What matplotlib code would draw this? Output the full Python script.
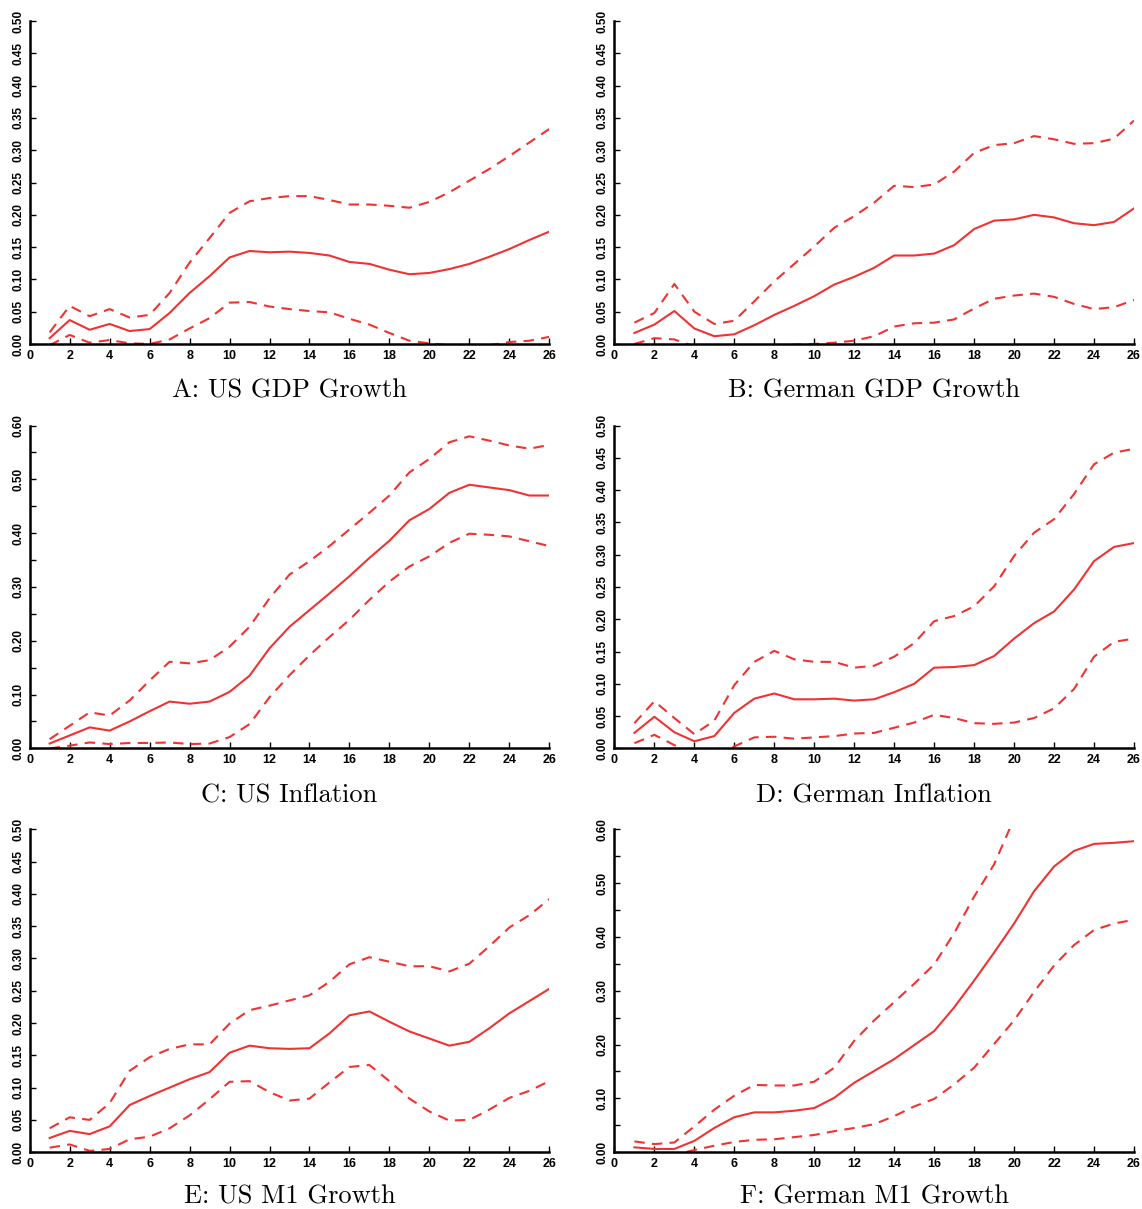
import numpy as np
import matplotlib
matplotlib.use("Agg")
import matplotlib.pyplot as plt
from matplotlib.ticker import MultipleLocator, FormatStrFormatter

nan = np.nan
horizon = list(range(1, 27))

# A: US GDP growth
us_gdp = [0.009, 0.037, 0.022, 0.031, 0.020, 0.023, 0.048, 0.079, 0.105, 0.134, 0.144, 0.142, 0.143,
          0.141, 0.137, 0.127, 0.124, 0.115, 0.108, 0.110, 0.116, 0.124, 0.135, 0.147, 0.161, 0.174]
us_gdp_hi = [0.018, 0.059, 0.043, 0.054, 0.041, 0.045, 0.079, 0.126, 0.164, 0.203, 0.221, 0.226, 0.229,
             0.229, 0.223, 0.216, 0.216, 0.214, 0.211, 0.220, 0.235, 0.253, 0.271, 0.291, 0.312, 0.333]
us_gdp_lo = [-0.002, 0.014, 0.002, 0.006, 0.001, 0.000, 0.007, 0.024, 0.040, 0.064, 0.065, 0.058, 0.054,
             0.051, 0.049, 0.039, 0.030, 0.017, 0.005, 0.001, -0.002, -0.003, -0.002, 0.003, 0.005, 0.011]

# B: German GDP growth
de_gdp = [0.017, 0.030, 0.051, 0.024, 0.012, 0.015, 0.029, 0.045, 0.059, 0.074, 0.092, 0.104, 0.118,
          0.137, 0.137, 0.140, 0.153, 0.178, 0.191, 0.193, 0.200, 0.196, 0.187, 0.184, 0.189, 0.210]
de_gdp_hi = [0.033, 0.048, 0.093, 0.050, 0.031, 0.036, 0.066, 0.097, 0.124, 0.151, 0.180, 0.198, 0.219,
             0.245, 0.243, 0.247, 0.267, 0.296, 0.308, 0.311, 0.322, 0.317, 0.310, 0.311, 0.318, 0.346]
de_gdp_lo = [0.000, 0.009, 0.007, -0.004, -0.010, -0.010, -0.008, -0.005, -0.001, 0.000, 0.002, 0.005, 0.012,
             0.027, 0.032, 0.033, 0.038, 0.055, 0.070, 0.075, 0.078, 0.073, 0.062, 0.054, 0.057, 0.068]

# C: US inflation
us_inf = [0.009, 0.024, 0.039, 0.033, 0.050, 0.069, 0.087, 0.083, 0.087, 0.105, 0.135, 0.186, 0.226,
          0.257, 0.288, 0.320, 0.354, 0.386, 0.424, 0.445, 0.475, 0.490, 0.485, 0.480, 0.470, 0.470]
us_inf_hi = [0.017, 0.042, 0.067, 0.061, 0.089, 0.126, 0.161, 0.158, 0.164, 0.189, 0.226, 0.279, 0.323,
             0.348, 0.376, 0.407, 0.438, 0.470, 0.513, 0.538, 0.569, 0.580, 0.572, 0.563, 0.557, 0.564]
us_inf_lo = [0.000, 0.005, 0.011, 0.008, 0.010, 0.010, 0.011, 0.008, 0.009, 0.021, 0.045, 0.095, 0.136,
             0.173, 0.207, 0.239, 0.276, 0.310, 0.338, 0.357, 0.382, 0.399, 0.397, 0.394, 0.385, 0.376]

# D: German inflation
de_inf = [0.024, 0.049, 0.025, 0.011, 0.019, 0.055, 0.077, 0.085, 0.076, 0.076, 0.077, 0.074, 0.076,
          0.087, 0.100, 0.125, 0.126, 0.129, 0.143, 0.170, 0.194, 0.212, 0.246, 0.290, 0.312, 0.318]
de_inf_hi = [0.039, 0.073, 0.047, 0.022, 0.043, 0.098, 0.134, 0.151, 0.138, 0.134, 0.134, 0.125, 0.128,
             0.142, 0.163, 0.197, 0.205, 0.220, 0.251, 0.298, 0.334, 0.355, 0.394, 0.440, 0.458, 0.464]
de_inf_lo = [0.008, 0.021, 0.005, -0.010, -0.010, 0.003, 0.017, 0.018, 0.015, 0.017, 0.019, 0.023, 0.024,
             0.032, 0.040, 0.052, 0.047, 0.039, 0.038, 0.040, 0.047, 0.062, 0.092, 0.142, 0.165, 0.170]

# E: US M1 growth
us_m1 = [0.022, 0.033, 0.028, 0.040, 0.073, 0.087, 0.100, 0.113, 0.124, 0.154, 0.165, 0.161, 0.160,
         0.161, 0.184, 0.212, 0.218, 0.202, 0.187, 0.176, 0.165, 0.171, 0.192, 0.215, 0.234, 0.253]
us_m1_hi = [0.037, 0.054, 0.050, 0.076, 0.126, 0.147, 0.160, 0.167, 0.167, 0.199, 0.220, 0.227, 0.235,
            0.243, 0.264, 0.291, 0.302, 0.295, 0.288, 0.288, 0.280, 0.292, 0.319, 0.348, 0.367, 0.392]
us_m1_lo = [0.007, 0.012, 0.002, 0.005, 0.020, 0.024, 0.037, 0.057, 0.082, 0.109, 0.110, 0.093, 0.080,
            0.083, 0.108, 0.132, 0.135, 0.110, 0.083, 0.063, 0.049, 0.050, 0.066, 0.084, 0.095, 0.110]

# F: German M1 growth (upper band leaves the 0.60 scale after horizon 20)
de_m1 = [0.009, 0.006, 0.006, 0.021, 0.045, 0.065, 0.074, 0.074, 0.077, 0.082, 0.101, 0.129, 0.151,
         0.173, 0.199, 0.225, 0.269, 0.319, 0.371, 0.425, 0.485, 0.531, 0.560, 0.573, 0.575, 0.578]
de_m1_hi = [0.020, 0.015, 0.018, 0.048, 0.079, 0.105, 0.125, 0.124, 0.124, 0.131, 0.157, 0.207, 0.245,
            0.279, 0.313, 0.349, 0.407, 0.475, 0.535, 0.620, nan, nan, nan, nan, nan, nan]
de_m1_lo = [-0.012, -0.012, -0.005, 0.004, 0.012, 0.019, 0.023, 0.024, 0.028, 0.032, 0.039, 0.045, 0.052,
            0.067, 0.085, 0.099, 0.126, 0.157, 0.201, 0.245, 0.298, 0.347, 0.385, 0.413, 0.425, 0.432]

titles = ["A: US GDP Growth", "B: German GDP Growth", "C: US Inflation",
          "D: German Inflation", "E: US M1 Growth", "F: German M1 Growth"]
series = [(us_gdp, us_gdp_hi, us_gdp_lo), (de_gdp, de_gdp_hi, de_gdp_lo),
          (us_inf, us_inf_hi, us_inf_lo), (de_inf, de_inf_hi, de_inf_lo),
          (us_m1, us_m1_hi, us_m1_lo), (de_m1, de_m1_hi, de_m1_lo)]
y_tops = [0.50, 0.50, 0.60, 0.50, 0.50, 0.60]

fig = plt.figure(figsize=(11.42, 12.09), dpi=100)

# axes boxes in figure fractions: [left, bottom, width, height]
col_left = [0.026, 0.538]
col_width = 0.455
row_bottom = [0.7155, 0.381, 0.047]
row_height = 0.267
# caption centres below each row (figure fraction)
title_y = [0.677, 0.342, 0.0105]

red = "#f03232"

for i, (title, (mid, hi, lo), ytop) in enumerate(zip(titles, series, y_tops)):
    r, c = divmod(i, 2)
    ax = fig.add_axes([col_left[c], row_bottom[r], col_width, row_height])
    ax.plot(horizon, mid, color=red, lw=1.5)
    ax.plot(horizon, hi, color=red, lw=1.5, ls=(0, (5, 3.5)))
    ax.plot(horizon, lo, color=red, lw=1.5, ls=(0, (5, 3.5)))

    ax.set_xlim(0, 26)
    ax.set_ylim(0, ytop)
    ax.xaxis.set_major_locator(MultipleLocator(2))
    if ytop > 0.55:
        ax.yaxis.set_major_locator(MultipleLocator(0.10))
        ax.yaxis.set_minor_locator(MultipleLocator(0.05))
    else:
        ax.yaxis.set_major_locator(MultipleLocator(0.05))
    ax.yaxis.set_major_formatter(FormatStrFormatter("%.2f"))

    for side in ("top", "right"):
        ax.spines[side].set_visible(False)
    for side in ("left", "bottom"):
        ax.spines[side].set_linewidth(1.8)
    ax.tick_params(which="both", direction="in", length=4, width=1, pad=4)
    for lab in ax.get_xticklabels():
        lab.set_fontfamily("Liberation Sans")
        lab.set_fontweight("bold")
        lab.set_fontsize(9)
    for lab in ax.get_yticklabels():
        lab.set_fontfamily("Liberation Sans")
        lab.set_fontweight("bold")
        lab.set_fontsize(8.5)
        lab.set_rotation(90)
        lab.set_verticalalignment("center")

    x_mid = col_left[c] + col_width / 2
    fig.text(x_mid, title_y[r], title, family="cmr10", fontsize=19,
             ha="center", va="center")

fig.savefig("out.png", dpi=100)
